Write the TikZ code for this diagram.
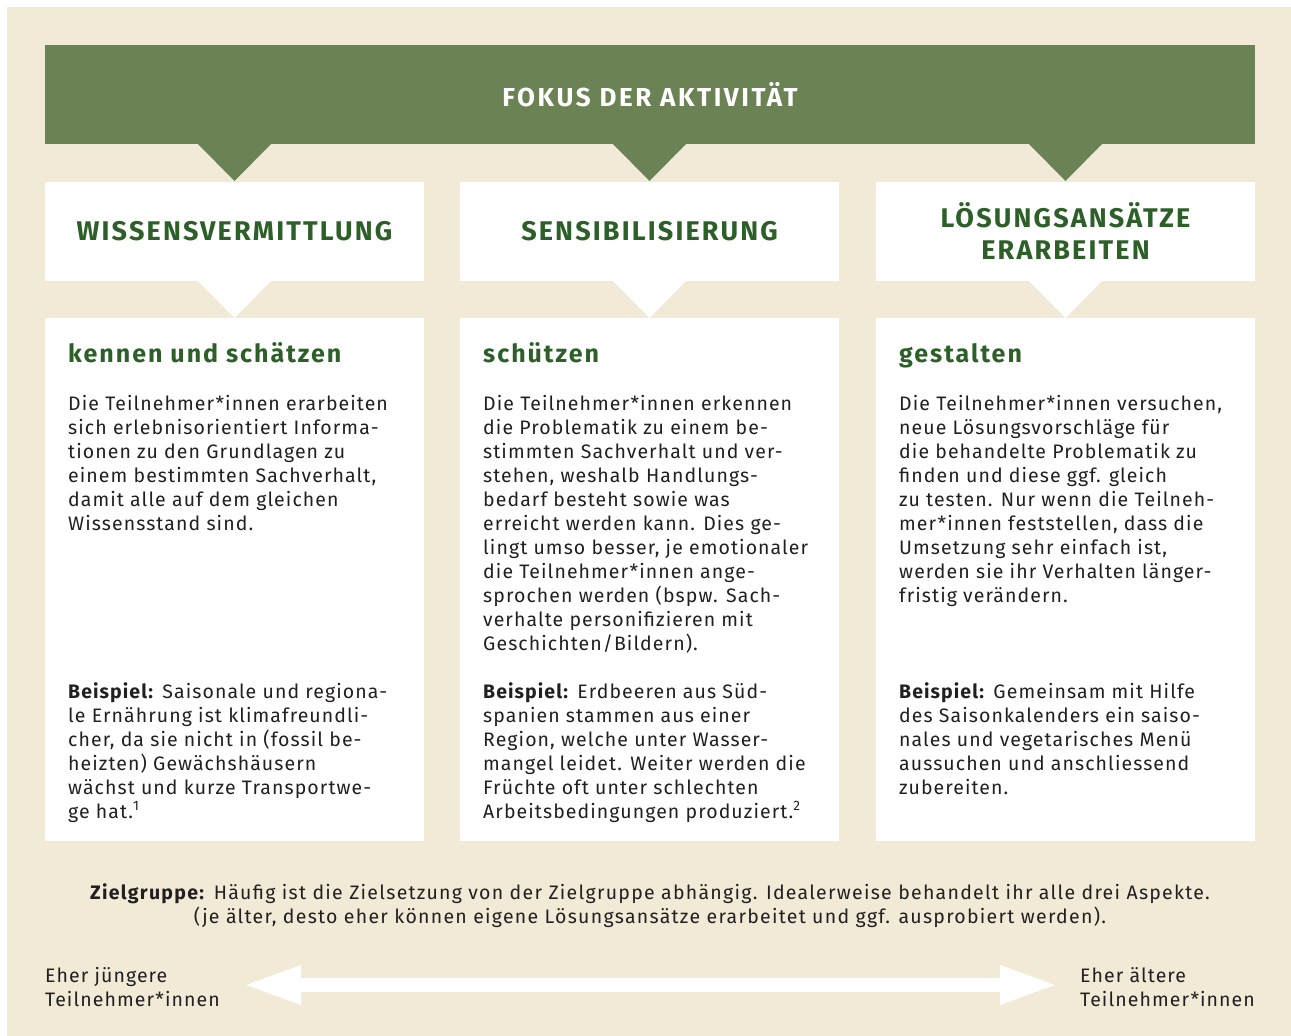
\documentclass[tikz,border=0pt]{standalone}
\usepackage{fontspec}
\setmainfont{Fira Sans}
\usetikzlibrary{arrows.meta}

\definecolor{sand}{HTML}{F0EAD6}
\definecolor{leaf}{HTML}{6A8254}
\definecolor{forest}{HTML}{2D5F28}
\definecolor{ink}{HTML}{231F20}

\def\colwidth{379pt}
\def\bodyfont{\fontsize{19.5}{24}\selectfont\addfontfeature{LetterSpace=5.5}}

\begin{document}
\begin{tikzpicture}[x=1pt,y=-1pt,inner sep=0pt]
    \tikzstyle{banner}=[fill=leaf,text=white,minimum width=1210pt,minimum height=99pt,
        font=\bfseries\fontsize{26}{30}\selectfont\addfontfeature{LetterSpace=10}]
    \tikzstyle{headbox}=[fill=white,text=forest,minimum width=\colwidth,minimum height=99pt,align=center,
        font=\bfseries\fontsize{27}{32}\selectfont\addfontfeature{LetterSpace=8}]
    \tikzstyle{bodybox}=[fill=white,minimum width=\colwidth,minimum height=523pt]
    \tikzstyle{verb}=[anchor=base west,text=forest,font=\bfseries\fontsize{25}{28}\selectfont\addfontfeature{LetterSpace=8}]
    % multi-line texts: the base anchor sits on the last line
    \tikzstyle{para}=[anchor=base west,align=left,text=ink,font=\bodyfont]
    \tikzstyle{age}=[para]
    \tikzset{>={Triangle[length=55pt,width=40pt,line width=0pt]}}

    % Background
    \useasboundingbox (0,0) rectangle (1291,1036);
    \fill[white] (0,0) rectangle (1291,1036);
    \fill[sand] (7,7) rectangle (1291,1036);

    % Draw the banner and its pointers
    \node[banner] (focus) at (650,94.5) {FOKUS DER AKTIVITÄT};
    \foreach \name/\cx/\title in {1/234.5/WISSENSVERMITTLUNG,2/649.5/SENSIBILISIERUNG,
                                  3/1065.5/{LÖSUNGSANSÄTZE\\ERARBEITEN}}
    {
        \fill[leaf] (\cx-37,143.5) -- (\cx+37,143.5) -- (\cx,181) -- cycle;
        \node[headbox] (head-\name) at (\cx,231.5) {\title};
        \node[bodybox] (body-\name) at (\cx,579.5) {};
        \fill[white] (\cx-37,280.5) -- (\cx+37,280.5) -- (\cx,318) -- cycle;
    }

    % Column 1
    \node[verb] (verb-1) at (68,362) {kennen und schätzen};
    \node[para] (text-1) at (68,530) {Die Teilnehmer*innen erarbeiten\\
        sich erlebnisorientiert Informa-\\
        tionen zu den Grundlagen zu\\
        einem bestimmten Sachverhalt,\\
        damit alle auf dem gleichen\\
        Wissensstand sind.};
    \node[para] (ex-1) at (68,818) {\textbf{Beispiel:} Saisonale und regiona-\\
        le Ernährung ist klimafreundli-\\
        cher, da sie nicht in (fossil be-\\
        heizten) Gewächshäusern\\
        wächst und kurze Transportwe-\\
        ge hat.\textsuperscript{1}};

    % Column 2
    \node[verb] (verb-2) at (483,362) {schützen};
    \node[para] (text-2) at (483,650) {Die Teilnehmer*innen erkennen\\
        die Problematik zu einem be-\\
        stimmten Sachverhalt und ver-\\
        stehen, weshalb Handlungs-\\
        bedarf besteht sowie was\\
        erreicht werden kann. Dies ge-\\
        lingt umso besser, je emotionaler\\
        die Teilnehmer*innen ange-\\
        sprochen werden (bspw. Sach-\\
        verhalte personifizieren mit\\
        Geschichten/Bildern).};
    \node[para] (ex-2) at (483,818) {\textbf{Beispiel:} Erdbeeren aus Süd-\\
        spanien stammen aus einer\\
        Region, welche unter Wasser-\\
        mangel leidet. Weiter werden die\\
        Früchte oft unter schlechten\\
        Arbeitsbedingungen produziert.\textsuperscript{2}};

    % Column 3
    \node[verb] (verb-3) at (899,362) {gestalten};
    \node[para] (text-3) at (899,602) {Die Teilnehmer*innen versuchen,\\
        neue Lösungsvorschläge für\\
        die behandelte Problematik zu\\
        finden und diese ggf. gleich\\
        zu testen. Nur wenn die Teilneh-\\
        mer*innen feststellen, dass die\\
        Umsetzung sehr einfach ist,\\
        werden sie ihr Verhalten länger-\\
        fristig verändern.};
    \node[para] (ex-3) at (899,794) {\textbf{Beispiel:} Gemeinsam mit Hilfe\\
        des Saisonkalenders ein saiso-\\
        nales und vegetarisches Menü\\
        aussuchen und anschliessend\\
        zubereiten.};

    % Target group
    \node[para,anchor=center,align=center,font=\bodyfont\addfontfeature{LetterSpace=6.5}] (target) at (650,906)
        {\textbf{Zielgruppe:} Häufig ist die Zielsetzung von der Zielgruppe abhängig. Idealerweise behandelt ihr alle drei Aspekte.\\
        (je älter, desto eher können eigene Lösungsansätze erarbeitet und ggf. ausprobiert werden).};

    % Age range
    \node[age] (younger) at (45,1006) {Eher jüngere\\Teilnehmer*innen};
    \node[age] (older) at (1080,1006) {Eher ältere\\Teilnehmer*innen};
    \coordinate (young-end) at (246,985);
    \coordinate (old-end) at (1055,985);
    \draw[white,line width=14pt,<->] (young-end) -- (old-end);
\end{tikzpicture}
\end{document}
